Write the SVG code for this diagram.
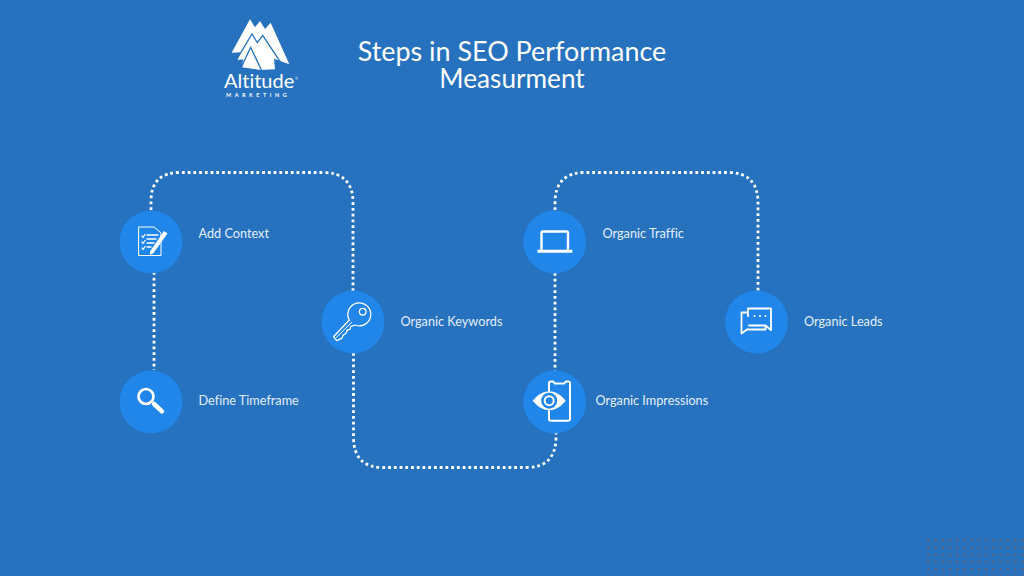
<svg xmlns="http://www.w3.org/2000/svg" width="1024" height="576" viewBox="0 0 1024 576">
  <style>
    text { font-variant-ligatures: none; }
    .hub { fill: #2186ea; }
    .link { fill: none; stroke: #ffffff; stroke-width: 2.8; stroke-dasharray: 2.8 2.93; }
    .label { font-family: "Lato", "Open Sans", sans-serif; font-size: 12.7px; fill: #e4eefa; }
    .title { font-family: "Lato", "Open Sans", sans-serif; font-size: 26.9px; fill: #ffffff; text-anchor: middle; }
    .line { fill: none; stroke: #ffffff; stroke-linejoin: round; stroke-linecap: round; }
    .solid { fill: #ffffff; }
    .speck { fill: none; stroke: #4a6690; stroke-width: 3; stroke-dasharray: 3 4.22; }
  </style>

  <rect width="1024" height="576" fill="#2672be"/>

  <!-- Corner dot grid -->
  <g id="dot-grid" class="speck">
    <path d="M927 540.500H1024"/>
    <path d="M927 547.500H1024"/>
    <path d="M927 555H1024"/>
    <path d="M927 562H1024"/>
    <path d="M927 569.500H1024"/>
    <path d="M927 576.500H1024"/>
  </g>

  <!-- Dotted route between the steps -->
  <g id="connectors">
    <path class="link" d="M154 272V370"/>
    <path class="link" d="M151 210V201Q151 172.500 180 172.500H323Q353 172.500 353 203V291"/>
    <path class="link" d="M353.500 353V437Q353.500 467.500 383 467.500H526Q556 467.500 556 437V433"/>
    <path class="link" d="M555 273V371"/>
    <path class="link" d="M555 210V203Q555 172.500 585 172.500H728Q758 172.500 758 203V291"/>
  </g>

  <g id="logo">
    <g transform="translate(200 10) scale(.3333)">
      <path class="solid" d="M95 128L150 28L165 52L180 33L195 57L212 38L268 163L222 146L225 178L182 180L125 172L130 148L112 150L122 127Z"/>
      <path fill="none" stroke="#2672be" stroke-width="4" d="M108 152L156 72L172 98L188 76L244 160M122 176L152 112L186 184"/>
    </g>
    <text x="224" y="88" font-family="Lato, sans-serif" font-size="20" fill="#ffffff">Altitude</text>
    <text x="295" y="80" font-family="Lato, sans-serif" font-size="3.5" fill="#ffffff">®</text>
    <text x="226" y="96.700" font-family="Lato, sans-serif" font-size="5.500" font-weight="700" letter-spacing="3.500" fill="#ffffff">MARKETING</text>
  </g>

  <g id="title">
    <text class="title" x="512" y="60.500">Steps in SEO Performance</text>
    <text class="title" x="512" y="88" style="font-size:26.2px">Measurment</text>
  </g>

  <g id="add-context">
    <circle class="hub" cx="151" cy="242" r="31.500"/>
    <path class="line" stroke-width="1" d="M139 227H154L161 233V255.500H139Z"/>
    <path class="line" stroke-width="1.300" d="M147 235H158M147 239H156M147 243H154M147 247H151M142 236L143 237.500L145 234.500M142 242L143 243.500L145 240.500M142 248L143 249.500L145 246.500"/>
    <path class="solid" d="M150 251.500L164 231L167.500 233.500L153.500 253L150 255Z"/>
    <text class="label" x="198.500" y="238">Add Context</text>
  </g>

  <g id="define-timeframe">
    <circle class="hub" cx="151" cy="402" r="31.500"/>
    <circle class="line" cx="146" cy="396.500" r="7.500" stroke-width="2.700"/>
    <path class="line" stroke-width="4.500" d="M154 404L162 411.300"/>
    <text class="label" x="198.500" y="405">Define Timeframe</text>
  </g>

  <g id="organic-keywords">
    <circle class="hub" cx="353" cy="322" r="31.500"/>
    <path class="line" stroke-width="1.300" d="M333.500 336.700L349.300 320A11.500 11.500 0 1 1 355 325L350.700 326.700L350 329.300L347.300 330L346 333.300L343.300 335L341.700 338.300L336.700 340.700Z"/>
    <circle class="line" cx="362.700" cy="311.700" r="3.300" stroke-width="1.300"/>
    <path class="line" stroke-width="1" d="M336.500 337.300L351.700 322.300"/>
    <text class="label" x="400.500" y="326">Organic Keywords</text>
  </g>

  <g id="organic-traffic">
    <circle class="hub" cx="554.700" cy="242" r="31.500"/>
    <path class="line" stroke-width="2.400" d="M541.500 250V233Q541.500 231.500 543 231.500H566.500Q568 231.500 568 233V250"/>
    <path class="solid" d="M537.500 249.800H572.300V252.800H537.500Z"/>
    <text class="label" x="602.500" y="238">Organic Traffic</text>
  </g>

  <g id="organic-impressions">
    <circle class="hub" cx="554.700" cy="402" r="31.500"/>
    <path class="line" stroke-width="2" d="M549 391V383Q549 381.500 551 381.500H553L555 383.500H564L566 381.500H568Q570 381.500 570 383V419Q570 420.800 568 420.800H551Q549 420.800 549 419V411"/>
    <path class="solid" d="M532.700 400.700C538 394 544 391.200 549.200 391.200C554.500 391.200 560.500 394 565.700 400.700C560.500 407.500 554.500 410.200 549.200 410.200C544 410.200 538 407.500 532.700 400.700Z"/>
    <circle cx="549.200" cy="400.700" r="8" fill="#2186ea"/>
    <circle class="line" cx="549.200" cy="400.700" r="4.500" stroke-width="2"/>
    <text class="label" x="595.500" y="405">Organic Impressions</text>
  </g>

  <g id="organic-leads">
    <circle class="hub" cx="756.500" cy="322" r="31.500"/>
    <path class="line" stroke-width="1.800" d="M748 316V308.500H771V330L765.500 325.500H749"/>
    <path class="line" stroke-width="1.800" d="M748 312.500H741.500V333.500L747 329.500H765.500V325.500"/>
    <circle class="solid" cx="754.500" cy="316" r="1"/>
    <circle class="solid" cx="760" cy="316" r="1"/>
    <circle class="solid" cx="765.500" cy="316" r="1"/>
    <text class="label" x="804" y="326">Organic Leads</text>
  </g>
</svg>
